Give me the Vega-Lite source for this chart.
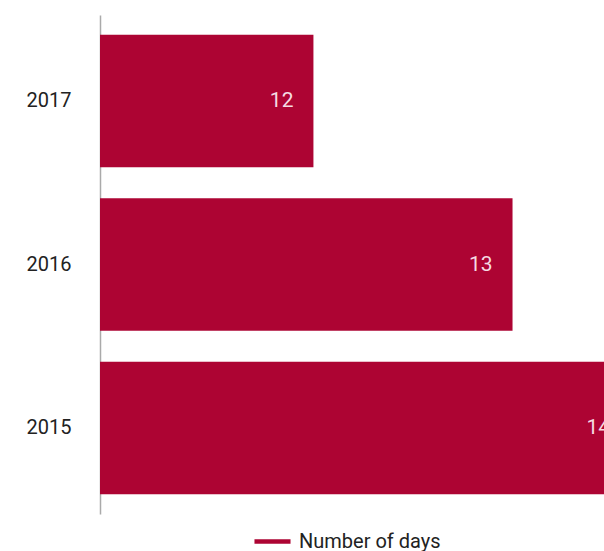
{
  "$schema": "https://vega.github.io/schema/vega-lite/v6.json",
  "autosize": "none",
  "padding": {"left": 100, "top": 15, "right": 0, "bottom": 37},
  "width": 530,
  "height": 499,
  "background": "white",
  "config": {"view": {"stroke": null}, "font": "Roboto"},
  "data": {"values": [
    {"year": "2017", "days": 12, "series": "Number of days"},
    {"year": "2016", "days": 13, "series": "Number of days"},
    {"year": "2015", "days": 14, "series": "Number of days"}
  ]},
  "encoding": {
    "y": {"field": "year", "type": "nominal", "sort": ["2017", "2016", "2015"],
      "scale": {"paddingInner": 0.19, "paddingOuter": 0.12},
      "axis": {"title": null, "ticks": false, "domainColor": "#aaaaaa", "domainWidth": 1.5,
        "labelFontSize": 20, "labelColor": "#222222", "labelPadding": 29, "labelFont": "Roboto"}},
    "x": {"field": "days", "type": "quantitative",
      "scale": {"domain": [10.928, 13.59], "zero": false, "clamp": true, "nice": false},
      "axis": null}
  },
  "layer": [
    {"mark": {"type": "bar"},
     "encoding": {
       "color": {"field": "series", "type": "nominal", "scale": {"range": ["#ad0433"]},
         "legend": {"title": null, "orient": "none", "legendX": 152, "legendY": 506,
           "symbolType": "stroke", "symbolSize": 1300, "symbolStrokeWidth": 4.5,
           "symbolStrokeColor": "#ad0433", "symbolFillColor": "#ad0433",
           "labelFontSize": 20, "labelColor": "#222222", "labelFont": "Roboto", "labelOffset": 6}}
     }},
    {"mark": {"type": "text", "align": "right", "baseline": "middle", "dx": -20, "fontSize": 21, "color": "#f5dbe2", "font": "Roboto"},
     "encoding": {"text": {"field": "days", "type": "quantitative"}}}
  ]
}
